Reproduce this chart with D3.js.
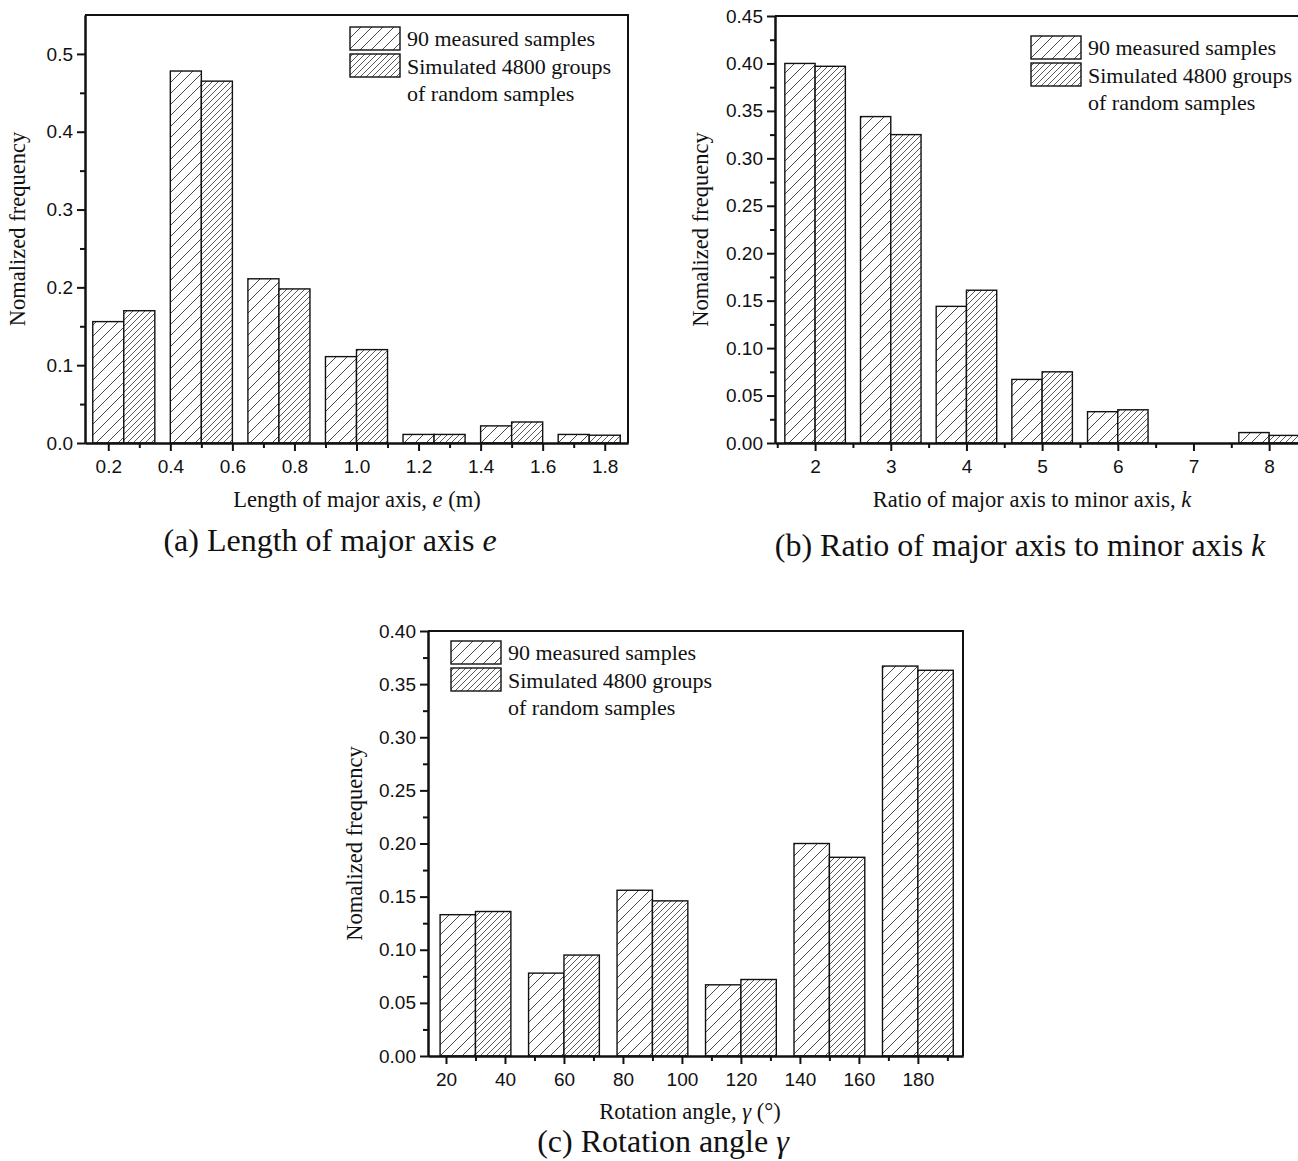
<!DOCTYPE html>
<html>
<head>
<meta charset="utf-8">
<script src="https://cdn.jsdelivr.net/npm/d3@7"></script>
<style>
  html, body { margin: 0; padding: 0; background: #fff; }
  svg { display: block; }
</style>
</head>
<body>
<svg id="fig" width="1298" height="1161"></svg>
<script>
// ---- data: normalized frequency of each bin ----
const seriesNames = ["90 measured samples", "Simulated 4800 groups", "of random samples"];

// (a) length of major axis e (m)
const eCenters   = [0.25, 0.5, 0.75, 1.0, 1.25, 1.5, 1.75];
const eMeasured  = [0.156, 0.478, 0.211, 0.111, 0.011, 0.022, 0.011];
const eSimulated = [0.170, 0.465, 0.198, 0.120, 0.011, 0.027, 0.010];
const eXTicks    = [0.2, 0.4, 0.6, 0.8, 1.0, 1.2, 1.4, 1.6, 1.8];
const eYTicks    = [0.0, 0.1, 0.2, 0.3, 0.4, 0.5];

// (b) ratio of major axis to minor axis k
const kCenters   = [2, 3, 4, 5, 6, 7, 8];
const kMeasured  = [0.400, 0.344, 0.144, 0.067, 0.033, 0.0, 0.011];
const kSimulated = [0.397, 0.325, 0.161, 0.075, 0.035, 0.0, 0.008];
const kXTicks    = [2, 3, 4, 5, 6, 7, 8];
const kYTicks    = [0.00, 0.05, 0.10, 0.15, 0.20, 0.25, 0.30, 0.35, 0.40, 0.45];

// (c) rotation angle gamma (degrees)
const gCenters   = [30, 60, 90, 120, 150, 180];
const gMeasured  = [0.133, 0.078, 0.156, 0.067, 0.200, 0.367];
const gSimulated = [0.136, 0.095, 0.146, 0.072, 0.187, 0.363];
const gXTicks    = [20, 40, 60, 80, 100, 120, 140, 160, 180];
const gYTicks    = [0.00, 0.05, 0.10, 0.15, 0.20, 0.25, 0.30, 0.35, 0.40];

const svg = d3.select("#fig");
svg.append("rect").attr("width", 1298).attr("height", 1161).attr("fill", "#fff");

const SERIF = "'Liberation Serif', 'Times New Roman', serif";
const SANS  = "'Liberation Sans', Arial, sans-serif";

// ---- hatch fills ----
const defs = svg.append("defs");
function hatch(id, step, width) {
  const p = defs.append("pattern")
    .attr("id", id).attr("patternUnits", "userSpaceOnUse")
    .attr("width", step).attr("height", step);
  p.append("rect").attr("width", step).attr("height", step).attr("fill", "#fff");
  p.append("path")
    .attr("d", `M0,${step} L${step},0 M${-step / 2},${step / 2} L${step / 2},${-step / 2} M${step / 2},${step * 1.5} L${step * 1.5},${step / 2}`)
    .attr("stroke", "#4a4a4a").attr("stroke-width", width).attr("fill", "none");
}
hatch("hatchSparse", 11, 1);
hatch("hatchDense", 6, 0.9);
const fills = ["url(#hatchSparse)", "url(#hatchDense)"];

function drawPanel(cfg) {
  const g = svg.append("g");
  const x = d3.scaleLinear().domain(cfg.xDomain).range([cfg.left, cfg.right]);
  const y = d3.scaleLinear().domain(cfg.yDomain).range([cfg.bottom, cfg.top]);

  // paired bars: measured left of the bin centre, simulated right of it
  [cfg.measured, cfg.simulated].forEach((vals, s) => {
    g.append("g").selectAll("rect")
      .data(cfg.centers.map((c, i) => ({ c, v: vals[i] })).filter(d => d.v > 0))
      .join("rect")
      .attr("x", d => s === 0 ? x(d.c - cfg.barW) : x(d.c))
      .attr("width", d => x(d.c + cfg.barW) - x(d.c))
      .attr("y", d => y(d.v))
      .attr("height", d => y(0) - y(d.v))
      .attr("fill", fills[s])
      .attr("stroke", "#111").attr("stroke-width", 1.4);
  });

  // frame top / right
  g.append("path")
    .attr("d", `M${cfg.left},${cfg.top} H${cfg.right} V${cfg.bottom}`)
    .attr("fill", "none").attr("stroke", "#111").attr("stroke-width", 2);

  // axes: major ticks with labels, minor ticks without
  const yMajor = g.append("g").attr("transform", `translate(${cfg.left},0)`)
    .call(d3.axisLeft(y).tickValues(cfg.yTicks).tickFormat(d3.format(cfg.yFmt))
      .tickSize(8).tickSizeOuter(0).tickPadding(4));
  const yMinor = g.append("g").attr("transform", `translate(${cfg.left},0)`)
    .call(d3.axisLeft(y).tickValues(cfg.yMinor).tickFormat("").tickSize(5).tickSizeOuter(0));
  const xMajor = g.append("g").attr("transform", `translate(0,${cfg.bottom})`)
    .call(d3.axisBottom(x).tickValues(cfg.xTicks).tickFormat(d3.format(cfg.xFmt))
      .tickSize(8).tickSizeOuter(0).tickPadding(9));
  const xMinor = g.append("g").attr("transform", `translate(0,${cfg.bottom})`)
    .call(d3.axisBottom(x).tickValues(cfg.xMinor).tickFormat("").tickSize(5).tickSizeOuter(0));
  [yMajor, yMinor, xMajor, xMinor].forEach(a => {
    a.select(".domain").attr("stroke", "#111").attr("stroke-width", 2);
    a.selectAll(".tick line").attr("stroke", "#111").attr("stroke-width", 2);
    a.selectAll(".tick text").attr("fill", "#111")
      .style("font-family", SANS).style("font-size", "19px");
  });

  // y-axis title
  g.append("text")
    .attr("transform", `translate(${cfg.yTitleX},${(cfg.top + cfg.bottom) / 2 + cfg.yTitleDy}) rotate(-90)`)
    .attr("text-anchor", "middle")
    .style("font-family", SERIF).style("font-size", "22.5px").attr("fill", "#111")
    .text("Nomalized frequency");

  // x-axis title
  const xt = g.append("text")
    .attr("x", cfg.xTitle.x).attr("y", cfg.xTitle.y).attr("text-anchor", "middle")
    .style("font-family", SERIF).style("font-size", "22.5px").attr("fill", "#111");
  cfg.xTitle.parts.forEach(p => xt.append("tspan").text(p[0]).style("font-style", p[1] ? "italic" : "normal"));

  // caption under the panel
  const cap = g.append("text")
    .attr("x", cfg.caption.x).attr("y", cfg.caption.y).attr("text-anchor", "middle")
    .style("font-family", SERIF).style("font-size", "32px").attr("fill", "#111");
  cfg.caption.parts.forEach(p => cap.append("tspan").text(p[0]).style("font-style", p[1] ? "italic" : "normal"));

  // legend
  const lg = g.append("g").attr("transform", `translate(${cfg.legend.x},${cfg.legend.y})`);
  [0, 1].forEach(i => {
    lg.append("rect").attr("x", 0).attr("y", i * 27).attr("width", 50).attr("height", 23)
      .attr("fill", fills[i]).attr("stroke", "#111").attr("stroke-width", 1.4);
  });
  seriesNames.forEach((t, i) => {
    lg.append("text").attr("x", 57).attr("y", 19 + i * 27.5)
      .style("font-family", SERIF).style("font-size", "22px").attr("fill", "#111")
      .text(t);
  });
}

drawPanel({
  left: 85, right: 628, top: 15, bottom: 443,
  xDomain: [0.125, 1.875], yDomain: [0, 0.55], barW: 0.1,
  centers: eCenters, measured: eMeasured, simulated: eSimulated,
  xTicks: eXTicks, xMinor: d3.range(0.3, 1.8, 0.2), xFmt: ".1f",
  yTicks: eYTicks, yMinor: d3.range(0.05, 0.55, 0.1), yFmt: ".1f",
  yTitleX: 25, yTitleDy: 0,
  xTitle: { x: 357, y: 507, parts: [["Length of major axis, ", false], ["e", true], [" (m)", false]] },
  caption: { x: 330, y: 551, parts: [["(a) Length of major axis ", false], ["e", true]] },
  legend: { x: 350, y: 27 }
});

drawPanel({
  left: 775, right: 1314, top: 16, bottom: 443,
  xDomain: [1.47, 8.593], yDomain: [0, 0.45], barW: 0.4,
  centers: kCenters, measured: kMeasured, simulated: kSimulated,
  xTicks: kXTicks, xMinor: d3.range(1.5, 8.6, 1), xFmt: "d",
  yTicks: kYTicks, yMinor: d3.range(0.025, 0.45, 0.05), yFmt: ".2f",
  yTitleX: 708, yTitleDy: 0,
  xTitle: { x: 1032, y: 507, parts: [["Ratio of major axis to minor axis, ", false], ["k", true]] },
  caption: { x: 1020, y: 556, parts: [["(b) Ratio of major axis to minor axis ", false], ["k", true]] },
  legend: { x: 1031, y: 36 }
});

drawPanel({
  left: 428, right: 963, top: 631, bottom: 1056,
  xDomain: [13.9, 195.3], yDomain: [0, 0.40], barW: 12,
  centers: gCenters, measured: gMeasured, simulated: gSimulated,
  xTicks: gXTicks, xMinor: d3.range(30, 195, 20), xFmt: "d",
  yTicks: gYTicks, yMinor: d3.range(0.025, 0.40, 0.05), yFmt: ".2f",
  yTitleX: 362, yTitleDy: 0,
  xTitle: { x: 690, y: 1119, parts: [["Rotation angle, ", false], ["γ", true], [" (°)", false]] },
  caption: { x: 663, y: 1152, parts: [["(c) Rotation angle ", false], ["γ", true]] },
  legend: { x: 451, y: 641 }
});
</script>
</body>
</html>
